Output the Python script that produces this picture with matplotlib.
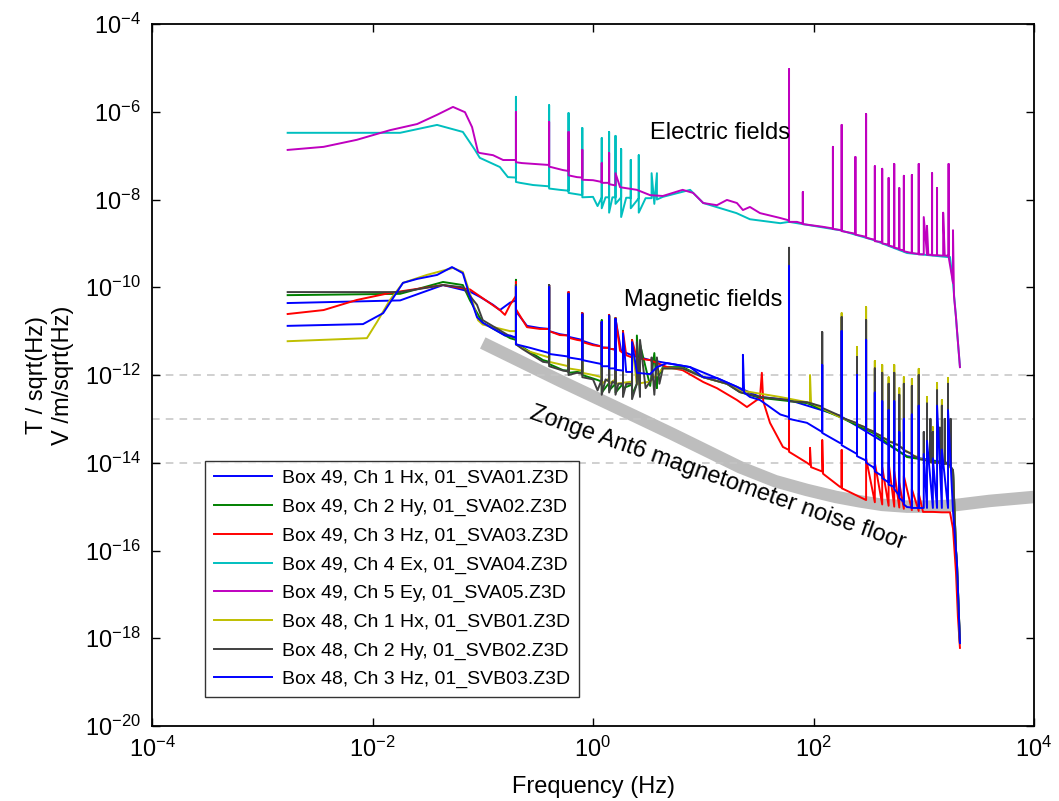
import numpy as np
import matplotlib
matplotlib.use("Agg")
import matplotlib.pyplot as plt
from matplotlib.ticker import FixedLocator, NullLocator, FuncFormatter

plt.rcParams['font.family'] = ['Liberation Sans', 'DejaVu Sans']
plt.rcParams['mathtext.fontset'] = 'custom'
plt.rcParams['mathtext.rm'] = 'Liberation Sans'
plt.rcParams['mathtext.it'] = 'Liberation Sans:italic'
plt.rcParams['mathtext.bf'] = 'Liberation Sans:bold'

# Spectra read off the figure : (frequency in Hz, log10 of amplitude)
# a spike is written as three points at the same frequency (base, top, base)

EX = [(1.7e-3, -6.48), (0.0178, -6.48), (0.0385, -6.30), (0.066, -6.46), (0.085, -6.87),
      (0.094, -7.05), (0.143, -7.26), (0.169, -7.49),
      (0.2, -7.50), (0.2, -5.66), (0.2, -7.60), (0.218, -7.62), (0.286, -7.67),
      (0.4, -7.70), (0.4, -5.85), (0.4, -7.75), (0.5, -7.78),
      (0.6, -7.80), (0.6, -6.03), (0.6, -7.85), (0.8, -7.90), (0.8, -6.37), (0.8, -7.95),
      (1.0, -7.94), (1.1, -8.15), (1.2, -7.95), (1.2, -6.60), (1.2, -8.20), (1.3, -7.95),
      (1.4, -7.95), (1.4, -6.46), (1.4, -8.30), (1.5, -7.95), (1.6, -7.95), (1.6, -6.55), (1.6, -8.10),
      (1.8, -7.95), (1.8, -6.85), (1.8, -8.40), (2.0, -7.96), (2.2, -7.96), (2.2, -7.10), (2.2, -8.20),
      (2.6, -7.97), (2.6, -6.99), (2.6, -8.30), (3.0, -7.97), (3.4, -7.97), (3.4, -7.40), (3.6, -8.10),
      (3.8, -7.40), (3.8, -8.00), (4.3, -7.94), (7.6, -7.78), (10, -8.08), (20, -8.31),
      (26.5, -8.45), (50, -8.54), (60, -8.51), (60, -8.06), (60, -8.51), (174, -8.70),
      (347, -8.92), (705, -9.22), (1622, -9.31), (1730, -9.31), (1842, -9.90),
      (1960, -10.68), (2000, -10.97), (2130, -11.82)]

EY = [(1.7e-3, -6.87), (3.6e-3, -6.80), (7.2e-3, -6.64), (0.0144, -6.42), (0.0254, -6.28),
      (0.0385, -6.07), (0.0537, -5.89), (0.069, -6.01), (0.080, -6.35), (0.0906, -6.92),
      (0.094, -6.94), (0.124, -6.99), (0.153, -7.10), (0.184, -7.10),
      (0.2, -7.10), (0.2, -6.01), (0.2, -7.15), (0.227, -7.17), (0.383, -7.21),
      (0.4, -7.21), (0.4, -6.23), (0.4, -7.25), (0.535, -7.33),
      (0.6, -7.35), (0.6, -6.46), (0.6, -7.45), (0.716, -7.49),
      (0.8, -7.50), (0.8, -6.87), (0.8, -7.55), (1.0, -7.56),
      (1.2, -7.60), (1.2, -7.17), (1.2, -7.62), (1.4, -7.62), (1.4, -6.94), (1.4, -7.65),
      (1.6, -7.68), (1.6, -7.40), (1.76, -7.72), (2.5, -7.78), (3.29, -7.90), (4.3, -7.92),
      (6.5, -7.78), (8.1, -7.85), (10, -8.08), (13.3, -8.13), (16.4, -8.01), (20.2, -8.08),
      (22.9, -8.24), (26.5, -8.17), (32.7, -8.31), (49.6, -8.42), (58.7, -8.47),
      (60, -8.47), (60, -5.03), (60, -8.51), (70.8, -8.51),
      (80, -8.55), (80, -7.83), (80, -8.56), (120, -8.62),
      (150, -8.66), (150, -6.80), (150, -8.67), (180, -8.70), (180, -6.30), (180, -8.72),
      (240, -8.78), (240, -7.03), (240, -8.80), (300, -8.85), (300, -6.05), (300, -8.87),
      (360, -8.92), (360, -7.24), (360, -8.95), (420, -8.97), (420, -7.30), (420, -9.00),
      (480, -9.03), (480, -7.51), (480, -9.05), (540, -9.08), (540, -7.19), (540, -9.10),
      (600, -9.12), (600, -7.74), (600, -9.14), (660, -9.16), (660, -7.46), (660, -9.18),
      (780, -9.22), (780, -7.44), (780, -9.22), (900, -9.24), (900, -7.19), (900, -9.25),
      (1000, -9.25), (1000, -8.40), (1070, -9.26), (1070, -8.60), (1100, -9.26),
      (1190, -9.26), (1190, -7.40), (1190, -9.27), (1320, -9.27), (1320, -7.74), (1320, -9.27),
      (1500, -9.28), (1500, -8.30), (1550, -9.28), (1680, -9.28), (1680, -7.19), (1680, -9.30),
      (1842, -9.90), (1842, -8.70), (1880, -10.20), (1960, -10.68), (2000, -10.97), (2130, -11.82)]

HZ49 = [(1.7e-3, -10.61), (3.6e-3, -10.52), (7.2e-3, -10.29), (0.0144, -10.13), (0.0436, -9.95),
        (0.0766, -10.05), (0.1, -10.25), (0.143, -10.52), (0.159, -10.63), (0.177, -10.40),
        (0.2, -10.20), (0.2, -9.88), (0.2, -10.50), (0.252, -10.91), (0.33, -10.95),
        (0.4, -10.95), (0.4, -9.95), (0.4, -11.00), (0.5, -11.09),
        (0.6, -11.10), (0.6, -10.11), (0.6, -11.15), (0.716, -11.20),
        (0.8, -11.22), (0.8, -10.59), (0.8, -11.25), (1.0, -11.32),
        (1.2, -11.35), (1.2, -10.79), (1.2, -11.38), (1.4, -11.38), (1.4, -10.63), (1.4, -11.40),
        (1.6, -11.42), (1.6, -10.70), (1.76, -11.45), (1.87, -11.50), (1.87, -11.00), (2.0, -11.55),
        (2.26, -11.60), (2.26, -11.20), (2.5, -11.62), (3.29, -11.66), (4.7, -11.82), (6.5, -11.89),
        (10, -12.16), (13.3, -12.30), (20.2, -12.57), (24.9, -12.73), (32.7, -12.52), (34, -11.95),
        (35, -12.60), (40.3, -13.09), (52.8, -13.64), (60, -13.71), (60, -12.73), (60, -13.75),
        (87.2, -14.00), (93, -14.05), (93, -13.66), (95, -14.10), (120, -14.20), (120, -13.48),
        (122, -14.25), (174, -14.55), (180, -14.55), (180, -13.71), (180, -14.58), (263, -14.78),
        (300, -14.85), (300, -13.90), (360, -14.90), (360, -14.00), (420, -14.95), (420, -14.10),
        (480, -14.98), (480, -14.00), (540, -15.00), (540, -14.20), (600, -15.02), (600, -14.46),
        (660, -15.05), (660, -14.30), (780, -15.08), (780, -14.60), (900, -15.10), (900, -14.70),
        (985, -15.12), (1200, -15.12), (1460, -15.13), (1730, -15.13), (1842, -15.50),
        (1960, -16.50), (2040, -17.50), (2130, -18.22)]

HY49 = [(1.7e-3, -10.18), (0.0178, -10.15), (0.0436, -9.88), (0.066, -9.95), (0.0766, -10.30),
        (0.1, -10.81), (0.177, -11.16), (0.2, -11.20), (0.2, -9.83), (0.2, -11.30), (0.227, -11.36),
        (0.352, -11.66), (0.4, -11.70), (0.4, -9.95), (0.4, -11.75), (0.535, -11.89),
        (0.6, -11.90), (0.6, -10.13), (0.6, -11.95), (0.716, -11.93),
        (0.8, -11.95), (0.8, -10.59), (0.8, -12.00), (1.09, -12.11),
        (1.2, -12.15), (1.2, -10.75), (1.2, -12.40), (1.4, -12.18), (1.4, -10.63), (1.4, -12.35),
        (1.6, -12.20), (1.6, -10.70), (1.6, -12.40), (1.87, -12.20), (1.87, -11.00), (1.87, -12.30),
        (2.26, -12.22), (2.26, -11.20), (2.26, -12.45), (2.5, -12.20), (2.5, -11.10), (2.67, -12.40),
        (2.67, -11.30), (3.3, -12.25), (3.6, -11.50), (3.8, -12.30), (3.8, -12.10), (4.3, -11.82),
        (6.5, -11.82), (10, -12.05), (16.4, -12.20), (21.5, -12.39), (32.7, -12.52), (49.6, -12.57),
        (87.2, -12.64), (174, -12.96), (347, -13.32), (705, -13.87), (1622, -14.01),
        (1842, -14.17), (1960, -15.99), (2000, -16.28), (2130, -18.11)]

HX48 = [(1.7e-3, -11.23), (8.9e-3, -11.16), (0.011, -10.79), (0.0144, -10.29), (0.0189, -9.90),
        (0.031, -9.72), (0.0537, -9.56), (0.066, -9.65), (0.080, -10.29), (0.0906, -10.75),
        (0.1, -10.85), (0.177, -11.00), (0.2, -11.00), (0.2, -9.95), (0.2, -11.30), (0.252, -11.45),
        (0.4, -11.60), (0.4, -10.00), (0.4, -11.70), (0.6, -11.80), (0.6, -10.20), (0.6, -11.85),
        (0.8, -11.90), (0.8, -10.70), (0.8, -11.95), (1.0, -12.00),
        (1.2, -12.05), (1.2, -10.85), (1.2, -12.20), (1.4, -12.08), (1.4, -10.70), (1.4, -12.20),
        (1.6, -12.10), (1.6, -10.75), (1.6, -12.20), (2.26, -12.15), (2.26, -11.30), (2.5, -12.20),
        (3.29, -12.15), (4.3, -11.85), (6.5, -11.85), (10, -12.05), (16.4, -12.20), (21.5, -12.35),
        (49.6, -12.50), (87.2, -12.62), (93, -12.64), (93, -12.00), (95, -12.64), (174, -12.96),
        (180, -12.97), (180, -10.59), (180, -12.98), (248, -13.10), (248, -11.36), (248, -13.12),
        (300, -13.20), (300, -10.45), (300, -13.22), (360, -13.30), (360, -11.68), (360, -13.32),
        (420, -13.40), (420, -11.77), (420, -13.42), (480, -13.48), (480, -12.05), (480, -13.50),
        (540, -13.55), (540, -11.77), (540, -13.57), (600, -13.60), (600, -12.30), (600, -13.62),
        (660, -13.68), (660, -12.05), (660, -13.70), (780, -13.80), (780, -12.09), (780, -13.82),
        (900, -13.88), (900, -11.86), (900, -13.90), (1070, -13.95), (1070, -12.50), (1070, -13.97),
        (1210, -14.00), (1210, -13.19), (1210, -14.00), (1320, -14.00), (1320, -12.18), (1320, -14.00),
        (1460, -14.00), (1460, -12.57), (1460, -14.02), (1660, -14.02), (1660, -12.07), (1660, -14.05),
        (1842, -14.17), (1960, -15.99), (2000, -16.28), (2130, -18.11)]

HY48 = [(1.7e-3, -10.11), (0.0178, -10.11), (0.0436, -9.95), (0.066, -10.00), (0.0887, -10.40),
        (0.1, -10.75), (0.177, -11.12), (0.2, -11.15), (0.2, -9.95), (0.2, -11.30), (0.227, -11.40),
        (0.352, -11.70), (0.4, -11.72), (0.4, -9.95), (0.4, -11.80), (0.535, -11.90),
        (0.6, -11.92), (0.6, -10.15), (0.6, -12.00), (0.716, -11.95),
        (0.8, -11.97), (0.8, -10.65), (0.8, -12.05), (1.0, -12.10), (1.1, -12.35),
        (1.2, -12.10), (1.2, -10.80), (1.2, -12.45), (1.3, -12.10),
        (1.4, -12.15), (1.4, -10.65), (1.4, -12.40), (1.5, -12.15),
        (1.6, -12.20), (1.6, -10.75), (1.6, -12.45), (1.7, -12.20),
        (1.87, -12.20), (1.87, -11.15), (1.87, -12.50), (2.0, -12.20),
        (2.26, -12.20), (2.26, -11.30), (2.26, -12.55), (2.5, -12.20), (2.5, -11.25),
        (2.67, -12.50), (2.67, -11.20), (3.0, -12.30), (3.4, -12.10), (3.4, -11.60), (3.6, -12.45),
        (3.8, -11.60), (4.0, -12.20), (4.3, -11.85), (6.5, -11.85), (10, -12.05), (16.4, -12.20),
        (21.5, -12.39), (32.7, -12.50), (49.6, -12.55), (60, -12.57), (60, -9.10), (60, -12.60),
        (87.2, -12.62), (120, -12.72), (120, -11.02), (120, -12.75), (174, -12.93),
        (180, -12.95), (180, -10.68), (180, -12.97), (248, -13.10), (248, -11.59), (248, -13.12),
        (300, -13.20), (300, -10.75), (300, -13.22), (360, -13.30), (360, -11.85), (360, -13.32),
        (420, -13.40), (420, -11.95), (420, -13.42), (480, -13.50), (480, -12.20), (480, -13.52),
        (540, -13.55), (540, -11.95), (540, -13.57), (600, -13.60), (600, -12.45), (600, -13.62),
        (660, -13.70), (660, -12.20), (660, -13.72), (780, -13.80), (780, -12.25), (780, -13.82),
        (900, -13.90), (900, -12.00), (900, -13.92), (1000, -13.93), (1000, -13.30), (1000, -13.94),
        (1070, -13.95), (1070, -12.65), (1070, -13.97), (1150, -13.98), (1150, -13.00), (1150, -13.99),
        (1210, -14.00), (1210, -13.30), (1210, -14.00), (1320, -14.00), (1320, -12.35), (1320, -14.00),
        (1400, -14.00), (1400, -13.20), (1400, -14.01), (1460, -14.01), (1460, -12.70), (1460, -14.02),
        (1550, -14.02), (1550, -13.00), (1550, -14.02), (1660, -14.02), (1660, -12.20), (1660, -14.05),
        (1750, -14.06), (1750, -13.00), (1750, -14.08), (1842, -14.17), (1960, -15.99),
        (2000, -16.28), (2130, -18.11)]

HX49 = [(1.7e-3, -10.36), (0.0178, -10.30), (0.0436, -9.95), (0.0766, -10.10), (0.0944, -10.22),
        (0.124, -10.40), (0.143, -10.52), (0.177, -10.35), (0.2, -10.30), (0.2, -9.95), (0.2, -10.55),
        (0.252, -10.88), (0.33, -10.93), (0.4, -10.95), (0.4, -9.95), (0.4, -11.00), (0.5, -11.07),
        (0.6, -11.10), (0.6, -10.11), (0.6, -11.13), (0.8, -11.20), (0.8, -10.59), (0.8, -11.22),
        (1.0, -11.30), (1.2, -11.35), (1.2, -10.80), (1.2, -11.37), (1.4, -11.38), (1.4, -10.65),
        (1.4, -11.40), (1.6, -11.42), (1.6, -10.72), (1.8, -11.45), (2.26, -11.55), (3.29, -11.66),
        (4.7, -11.73), (7.6, -11.82), (13.3, -12.07), (20.2, -12.27), (32.7, -12.50), (60, -12.57),
        (174, -12.93), (705, -13.85), (1622, -14.00), (1842, -14.17), (1960, -15.99), (2130, -18.11)]

HZ48 = [(1.7e-3, -10.88), (8.2e-3, -10.84), (0.0125, -10.59), (0.0189, -9.90), (0.0254, -9.81),
        (0.0385, -9.72), (0.0526, -9.54), (0.066, -9.68), (0.0766, -10.22), (0.0887, -10.68),
        (0.1, -10.81), (0.159, -11.10), (0.177, -11.10), (0.2, -11.15), (0.2, -10.00), (0.2, -11.30),
        (0.268, -11.38), (0.4, -11.50), (0.4, -10.00), (0.4, -11.52), (0.6, -11.58), (0.6, -10.15),
        (0.6, -11.60), (0.8, -11.65), (0.8, -10.62), (0.8, -11.66), (1.09, -11.73),
        (1.2, -11.75), (1.2, -10.79), (1.2, -11.80), (1.4, -11.80), (1.4, -10.65), (1.4, -11.85),
        (1.6, -11.85), (1.6, -10.72), (1.6, -11.88), (1.87, -11.90), (1.87, -11.05), (2.0, -11.93),
        (2.26, -11.93), (2.26, -11.25), (2.5, -11.95), (3.29, -11.98), (3.8, -11.82), (4.7, -11.73),
        (7.6, -11.82), (10, -12.05), (13.3, -12.07), (20.2, -12.27), (22.9, -12.35), (22.9, -11.54),
        (23.5, -12.40), (26.5, -12.50), (32.7, -12.57), (50, -12.90), (60, -12.96), (60, -9.52),
        (60, -13.00), (87.2, -13.09), (120, -13.30), (120, -11.77), (120, -13.32), (174, -13.55),
        (180, -13.55), (180, -11.00), (180, -13.60), (248, -13.80), (248, -12.00), (248, -13.85),
        (300, -13.95), (300, -11.20), (300, -14.00), (347, -14.10), (360, -14.15), (360, -12.40),
        (360, -14.20), (420, -14.30), (420, -12.60), (420, -14.35), (480, -14.45), (480, -12.80),
        (480, -14.50), (540, -14.55), (540, -12.60), (540, -14.60), (600, -14.75), (600, -13.30),
        (600, -14.80), (660, -14.90), (660, -13.00), (660, -14.95), (705, -15.01),
        (780, -15.02), (780, -12.90), (780, -15.03), (900, -15.03), (900, -12.70), (900, -15.03),
        (1000, -15.03), (1000, -13.80), (1070, -15.03), (1070, -13.50), (1210, -15.03), (1210, -13.90),
        (1320, -15.03), (1320, -12.70), (1460, -15.03), (1460, -13.70), (1660, -15.03), (1660, -12.80),
        (1842, -15.10), (1960, -16.00), (2000, -16.30), (2130, -18.11)]

# Zonge Ant6 noise floor
NOISE_FLOOR = [(0.1, -11.27), (0.51, -12.14), (2.5, -12.96), (5.2, -13.34), (21.5, -14.10),
               (45, -14.42), (87, -14.62), (160, -14.78), (263, -14.88), (420, -14.96),
               (705, -15.00), (1200, -15.00), (1730, -14.98), (3960, -14.87), (1e4, -14.78)]

SERIES = [
    ("Box 49, Ch 1 Hx, 01_SVA01.Z3D", HX49, "#0000ff"),
    ("Box 49, Ch 2 Hy, 01_SVA02.Z3D", HY49, "#008000"),
    ("Box 49, Ch 3 Hz, 01_SVA03.Z3D", HZ49, "#ff0000"),
    ("Box 49, Ch 4 Ex, 01_SVA04.Z3D", EX, "#00bfbf"),
    ("Box 49, Ch 5 Ey, 01_SVA05.Z3D", EY, "#bf00bf"),
    ("Box 48, Ch 1 Hx, 01_SVB01.Z3D", HX48, "#bfbf00"),
    ("Box 48, Ch 2 Hy, 01_SVB02.Z3D", HY48, "#404040"),
    ("Box 48, Ch 3 Hz, 01_SVB03.Z3D", HZ48, "#0000ff"),
]

DASHED_LEVELS = [1e-12, 1e-13, 1e-14]


def decade_label(v, pos):
    return r'$\mathregular{10^{%d}}$' % int(round(np.log10(v)))


fig = plt.figure(figsize=(10.59, 8.01), dpi=100)
ax = fig.add_axes([152/1059, 1-726/801, 882/1059, 702/801])
ax.set_xscale('log')
ax.set_yscale('log')

nf = np.array(NOISE_FLOOR).T
ax.plot(nf[0], 10.0**nf[1], color="#bdbdbd", lw=9, solid_capstyle='butt',
        solid_joinstyle='round', zorder=1)

for lev in DASHED_LEVELS:
    ax.axhline(lev, color="#c4c4c4", lw=1.1, dashes=(5, 4), zorder=1.5)

for label, data, col in SERIES:
    arr = np.array(data).T
    ax.plot(arr[0], 10.0**arr[1], color=col, lw=1.4, label=label, zorder=2)

ax.set_xlim(1e-4, 1e4)
ax.set_ylim(1e-20, 1e-4)
ax.xaxis.set_major_locator(FixedLocator([1e-4, 1e-2, 1e0, 1e2, 1e4]))
ax.yaxis.set_major_locator(FixedLocator([10.0**k for k in range(-20, -3, 2)]))
ax.xaxis.set_minor_locator(NullLocator())
ax.yaxis.set_minor_locator(NullLocator())
ax.xaxis.set_major_formatter(FuncFormatter(decade_label))
ax.yaxis.set_major_formatter(FuncFormatter(decade_label))
ax.tick_params(which='both', direction='in', length=6, width=1, top=True, right=True,
               labelsize=17, pad=8)
for sp in ax.spines.values():
    sp.set_linewidth(1.3)

ax.set_xlabel("Frequency (Hz)", fontsize=17, labelpad=10)
ax.set_ylabel("T / sqrt(Hz)\nV /m/sqrt(Hz)", fontsize=17, labelpad=8)

ax.text(14.2, 10**-6.48, "Electric fields", fontsize=17, ha='center', va='center')
ax.text(10, 10**-10.29, "Magnetic fields", fontsize=17, ha='center', va='center')
ax.text(13.6, 10**-14.35, "Zonge Ant6 magnetometer noise floor", fontsize=17,
        ha='center', va='center', rotation=-19.3, rotation_mode='anchor')

leg = ax.legend(loc='lower left', bbox_to_anchor=(53/882, 29/702), borderaxespad=0,
                fontsize=14, frameon=True, fancybox=False, handlelength=3.0,
                labelspacing=0.56, borderpad=0.45, handletextpad=0.5)
leg.get_frame().set_edgecolor('black')
leg.get_frame().set_linewidth(1.0)

fig.savefig("out.png", dpi=100)
